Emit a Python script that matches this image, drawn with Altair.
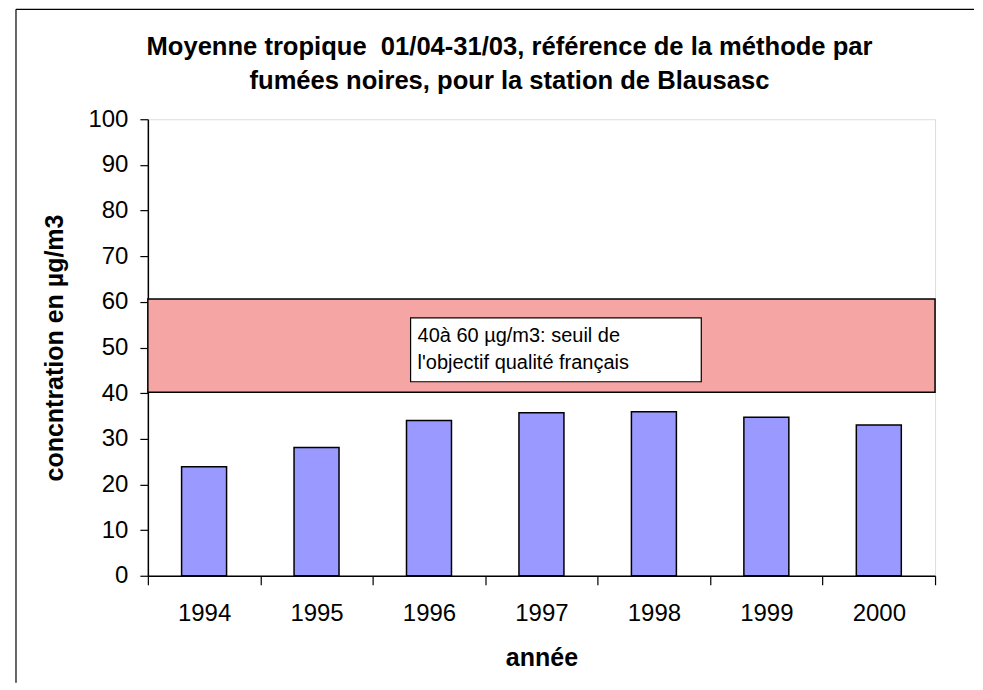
import altair as alt
import pandas as pd

# ---- data ----
years = ["1994", "1995", "1996", "1997", "1998", "1999", "2000"]
values = [23.9, 28.1, 34.0, 35.7, 35.9, 34.7, 33.0]

band_low = [40.2]
band_high = [60.6]

note_lines = ["40à 60 µg/m3: seuil de", "l'objectif qualité français"]
note_line_y = [52.5, 46.6]
note_box_low = [42.5]
note_box_high = [56.5]

title_lines = ["Moyenne tropique \u00a001/04-31/03, référence de la méthode par",
               "fumées noires, pour la station de Blausasc"]

FONT = "Liberation Sans"
W, H = 788, 457

df = pd.DataFrame({"annee": years, "valeur": values})
band_df = pd.DataFrame({"lo": band_low, "hi": band_high})
box_df = pd.DataFrame({"lo": note_box_low, "hi": note_box_high})
note_df = pd.DataFrame({"txt": note_lines, "yy": note_line_y})
one = pd.DataFrame({"k": [0]})

yscale = alt.Scale(domain=[0, 100], nice=False, zero=True)

bars = alt.Chart(df).mark_bar(
    width=alt.RelativeBandSize(0.4), fill="#9999FF", stroke="black", strokeWidth=1.5
).encode(
    x=alt.X("annee:N", sort=years,
            scale=alt.Scale(paddingInner=0, paddingOuter=0),
            axis=alt.Axis(title="année", labelAngle=0, tickBand="extent",
                          labelFontSize=24, labelPadding=17, tickSize=9,
                          titleFontSize=25, titleFontWeight="bold", titlePadding=20,
                          domainColor="black", tickColor="black", domainWidth=1.5,
                          tickWidth=1.2, labelColor="black", titleColor="black",
                          labelFont=FONT, titleFont=FONT)),
    y=alt.Y("valeur:Q", scale=yscale,
            axis=alt.Axis(title="concntration en µg/m3", values=list(range(0, 101, 10)),
                          grid=False, labelFontSize=24, labelPadding=12, tickSize=8,
                          titleFontSize=25, titleFontWeight="bold", titlePadding=20,
                          domainColor="black", tickColor="black", domainWidth=1.5,
                          tickWidth=1.2, labelColor="black", titleColor="black",
                          labelFont=FONT, titleFont=FONT)),
)

band = alt.Chart(band_df).mark_rect(fill="#F6A5A5", stroke="black", strokeWidth=1.5).encode(
    x=alt.value(0), x2=alt.value(W),
    y=alt.Y("lo:Q", scale=yscale), y2="hi:Q",
)

box = alt.Chart(box_df).mark_rect(fill="white", stroke="black", strokeWidth=1.2).encode(
    x=alt.value(263), x2=alt.value(554),
    y=alt.Y("lo:Q", scale=yscale), y2="hi:Q",
)

note = alt.Chart(note_df).mark_text(
    align="left", baseline="middle", fontSize=20, font=FONT, color="black"
).encode(
    x=alt.value(270),
    y=alt.Y("yy:Q", scale=yscale),
    text="txt:N",
)

border_top = alt.Chart(one).mark_rule(color="black", strokeWidth=1.2).encode(
    x=alt.value(-132), x2=alt.value(827), y=alt.value(-110)
)
border_left = alt.Chart(one).mark_rule(color="black", strokeWidth=1.2).encode(
    x=alt.value(-132), y=alt.value(-110), y2=alt.value(564)
)

chart = alt.layer(band, box, note, bars, border_top, border_left).properties(
    width=W, height=H,
    padding={"left": 7, "top": 0, "right": 0, "bottom": 0},
    title=alt.TitleParams(title_lines, fontSize=25.6, fontWeight="bold", font=FONT,
                          color="black", anchor="middle", frame="group", dx=-32,
                          lineHeight=34, offset=-86),
).configure_view(
    stroke="#808080", strokeWidth=2
).configure(background="white")

chart.save("out.html", embed_options={"renderer": "svg", "actions": False})
